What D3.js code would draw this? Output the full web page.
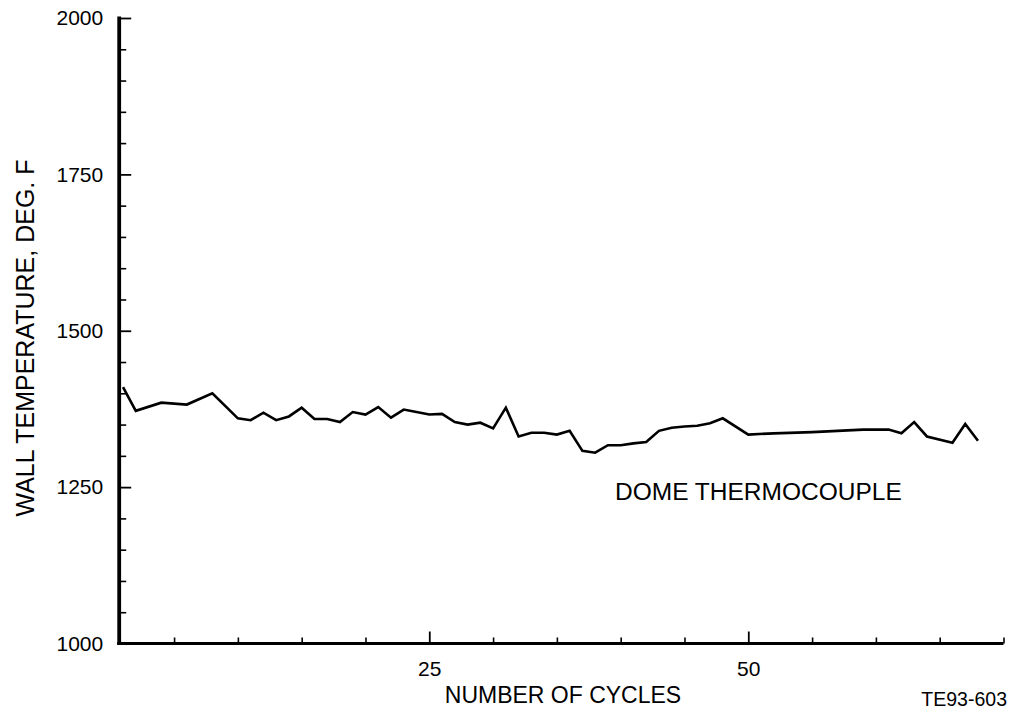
<!DOCTYPE html>
<html>
<head>
<meta charset="utf-8">
<script src="https://cdn.jsdelivr.net/npm/d3@7"></script>
<style>
  html, body { margin: 0; padding: 0; background: #fff; }
  svg { display: block; }
  text { font-family: "Liberation Sans", Arial, Helvetica, sans-serif; fill: #000; }
</style>
</head>
<body>
<svg id="chart" width="1011" height="712"></svg>
<script>
// ---- data ----
const cycles = [1,2,4,6,8,10,11,12,13,14,15,16,17,18,19,20,21,22,23,24,25,26,27,28,29,30,31,32,33,34,35,36,37,38,39,40,41,42,43,44,45,46,47,48,50,52,55,57,59,61,62,63,64,66,67,68];
const temps = [1410,1372,1385,1382,1400,1360,1357,1369,1357,1363,1377,1359,1359,1354,1370,1366,1378,1361,1374,1370,1366,1367,1354,1350,1353,1344,1377,1331,1337,1337,1334,1340,1308,1305,1317,1317,1320,1322,1340,1345,1347,1348,1352,1360,1334,1336,1338,1340,1342,1342,1336,1354,1331,1321,1351,1324];
const xMajorTicks = [25, 50];
const xMinorTicks = [5,10,15,20,30,35,40,45,55,60,65,70];
const yMajorTicks = [1000, 1250, 1500, 1750, 2000];
const yMinorTicks = [1050,1100,1150,1200,1300,1350,1400,1450,1550,1600,1650,1700,1800,1850,1900,1950];
const xTitle = "NUMBER OF CYCLES";
const yTitle = "WALL TEMPERATURE, DEG. F";
const seriesLabel = "DOME THERMOCOUPLE";
const figId = "TE93-603";

// ---- layout ----
const svg = d3.select("#chart");
const x = d3.scaleLinear().domain([0.7, 70]).range([119.2, 1003.5]);
const y = d3.scaleLinear().domain([1000, 2000]).range([643.5, 18]);

// minor ticks
svg.append("g").attr("transform", `translate(0,${y(1000)})`)
  .call(d3.axisBottom(x).tickValues(xMinorTicks).tickFormat("").tickSizeInner(-6).tickSizeOuter(0))
  .call(g => g.select(".domain").remove())
  .call(g => g.selectAll("line").attr("stroke", "#000").attr("stroke-width", 1.6));
svg.append("g").attr("transform", `translate(${x(0.7)},0)`)
  .call(d3.axisLeft(y).tickValues(yMinorTicks).tickFormat("").tickSizeInner(-7).tickSizeOuter(0))
  .call(g => g.select(".domain").remove())
  .call(g => g.selectAll("line").attr("stroke", "#000").attr("stroke-width", 1.6));

// major ticks + labels
svg.append("g").attr("transform", `translate(0,${y(1000)})`)
  .call(d3.axisBottom(x).tickValues(xMajorTicks).tickFormat(d3.format("d")).tickSizeInner(-12).tickSizeOuter(0).tickPadding(18))
  .call(g => g.select(".domain").remove())
  .call(g => g.selectAll("line").attr("stroke", "#000").attr("stroke-width", 1.8))
  .call(g => g.selectAll("text").attr("font-size", 21).attr("font-family", "'Liberation Sans', Arial, sans-serif").attr("fill", "#000"));
svg.append("g").attr("transform", `translate(${x(0.7)},0)`)
  .call(d3.axisLeft(y).tickValues(yMajorTicks).tickFormat(d3.format("d")).tickSizeInner(-12).tickSizeOuter(0).tickPadding(16))
  .call(g => g.select(".domain").remove())
  .call(g => g.selectAll("line").attr("stroke", "#000").attr("stroke-width", 1.8))
  .call(g => g.selectAll("text").attr("font-size", 21).attr("font-family", "'Liberation Sans', Arial, sans-serif").attr("fill", "#000"));

// axis lines
svg.append("line")
  .attr("x1", x(0.7) - 2).attr("x2", x(70)).attr("y1", y(1000)).attr("y2", y(1000))
  .attr("stroke", "#000").attr("stroke-width", 3.2);
svg.append("line")
  .attr("x1", x(0.7)).attr("x2", x(0.7)).attr("y1", y(1000) + 1.5).attr("y2", y(2000) - 1.5)
  .attr("stroke", "#000").attr("stroke-width", 3.8);

// data line
const line = d3.line().x((d, i) => x(cycles[i])).y(d => y(d));
svg.append("path").datum(temps)
  .attr("d", line)
  .attr("fill", "none").attr("stroke", "#000").attr("stroke-width", 2.6)
  .attr("stroke-linejoin", "miter");

// titles
svg.append("text").attr("x", 563).attr("y", 702.5).attr("text-anchor", "middle")
  .attr("font-size", 23).text(xTitle);
svg.append("text").attr("transform", `translate(34,338) rotate(-90)`).attr("text-anchor", "middle")
  .attr("font-size", 25).text(yTitle);
svg.append("text").attr("x", 615).attr("y", 500).attr("font-size", 24.5).text(seriesLabel);
svg.append("text").attr("x", 1007).attr("y", 706).attr("text-anchor", "end").attr("font-size", 19.5).text(figId);
</script>
</body>
</html>
